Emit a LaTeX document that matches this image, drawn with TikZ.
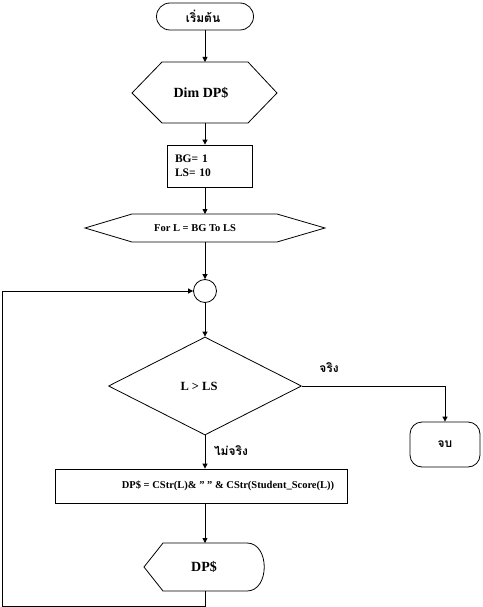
\documentclass[tikz,border=0pt]{standalone}
\usepackage{fontspec}
\setmainfont{Liberation Serif}
\newfontfamily\thaifont[Script=Thai]{Loma}
\usetikzlibrary{arrows.meta,shapes.misc,shapes.geometric}
\begin{document}
\begin{tikzpicture}[x=1pt,y=-1pt,
  line width=0.8pt,
  arr/.style={-{Triangle[width=5pt,length=5pt]}},
  lbl/.style={font=\bfseries\fontsize{11}{13}\selectfont, inner sep=0pt},
  thai/.style={font=\thaifont\bfseries\fontsize{12}{14}\selectfont, inner sep=0pt},
  ]
\useasboundingbox (0,0) rectangle (482,607);
% start terminal
\node[draw, rounded rectangle, minimum width=97pt, minimum height=27pt, inner sep=0pt] (start) at (205,16.5) {};
\node[thai] (starttxt) at (203,16.5) {เริ่มต้น};
% hexagon Dim DP$
\draw (132,93) coordinate (h1w) -- (162,62) -- (248,62) -- (277,93) coordinate (h1e) -- (248,123) -- (162,123) -- cycle;
\coordinate (h1n) at (205,62);
\coordinate (h1s) at (205,123);
\node[lbl, font=\bfseries\fontsize{14}{16}\selectfont] (dim) at (201,93) {Dim DP\$};
% box BG / LS
\node[draw, minimum height=42pt, text width=69pt, inner sep=8pt, align=left,
  font=\bfseries\fontsize{11.5}{14}\selectfont] (init) at (209.5,166) {BG= 1\\LS= 10};
% for hexagon
\draw (85,228) -- (132,214) -- (277,214) -- (325,228) -- (277,242) -- (132,242) -- cycle;
\coordinate (h2n) at (205,214);
\coordinate (h2s) at (205,242);
\node[lbl, font=\bfseries\fontsize{10.5}{12}\selectfont] (for) at (195,228) {For L = BG To LS};
% connector circle
\node[draw, circle, minimum size=23pt, inner sep=0pt] (c) at (205,291) {};
% decision
\node[draw, diamond, minimum width=193pt, minimum height=98pt, inner sep=0pt] (dec) at (205,386) {};
\node[lbl, font=\bfseries\fontsize{12.5}{14}\selectfont] (dectxt) at (199,386) {L > LS};
% end terminal
\node[draw, rectangle, rounded corners=12pt, minimum width=70pt, minimum height=45pt, inner sep=0pt] (end) at (445,444.5) {};
\node[thai] (endtxt) at (445,444.5) {จบ};
% labels
\node[thai] (yes) at (329,368) {จริง};
\node[thai] (no) at (231,451) {ไม่จริง};
% process
\node[draw, minimum width=292pt, minimum height=34pt, inner sep=0pt] (proc) at (201,486) {};
\node[lbl, font=\bfseries\fontsize{10.5}{12}\selectfont] (proctxt) at (228,486) {DP\$ = CStr(L)\& " " \& CStr(Student\_Score(L))};
% display
\draw (144,567) -- (163,543) -- (247,543) .. controls (270,543) and (270,591) .. (247,591) -- (163,591) -- cycle;
\coordinate (dn) at (205,543);
\coordinate (ds) at (205,591);
\node[lbl, font=\bfseries\fontsize{14}{16}\selectfont] (disp) at (204,567) {DP\$};
% corner coordinates of loop
\coordinate (l1) at (205,606);
\coordinate (l2) at (2,606);
\coordinate (l3) at (2,291);
% connectors
\draw[arr] (start.south) -- (h1n);
\draw[arr] (h1s) -- (h1s |- init.north);
\draw[arr] (h1s |- init.south) -- (h2n);
\draw[arr] (h2s) -- (c.north);
\draw[arr] (c.south) -- (dec.north);
\draw[arr] (dec.east) -| (end.north);
\draw[arr] (dec.south) -- (dec.south |- proc.north);
\draw[arr] (dec.south |- proc.south) -- (dn);
\draw[arr] (ds) -- (l1) -- (l2) -- (l3) -- (c.west);
\end{tikzpicture}
\end{document}
